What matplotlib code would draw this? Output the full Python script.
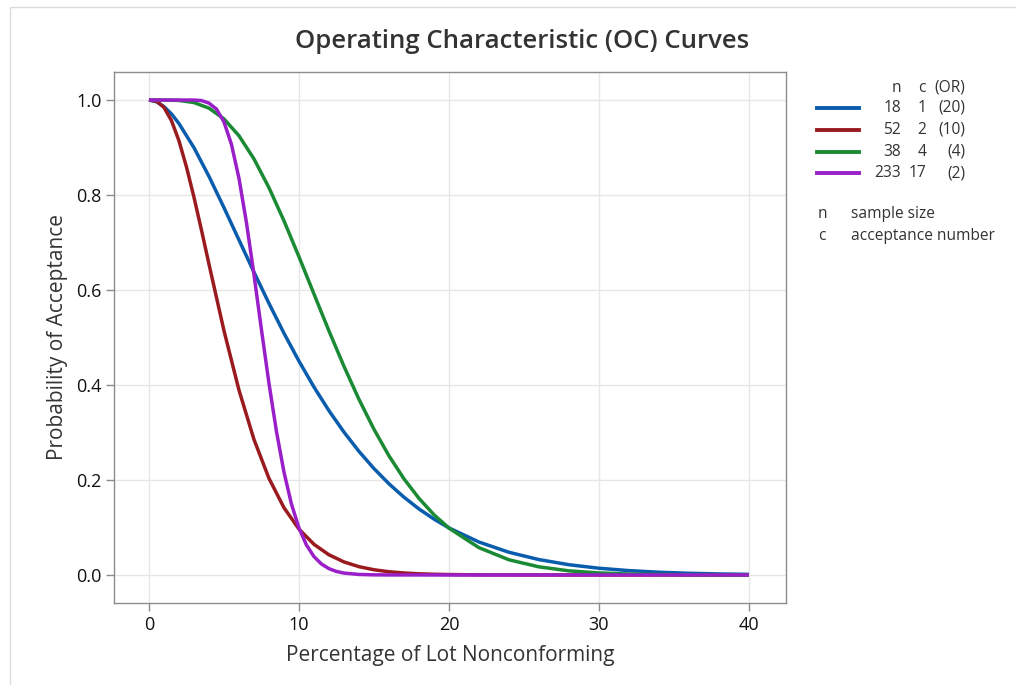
import matplotlib
matplotlib.use("Agg")
import matplotlib.pyplot as plt
from matplotlib.lines import Line2D
from matplotlib.patches import Rectangle

plt.rcParams['font.family'] = ['Open Sans', 'DejaVu Sans']

# ---- data ----
plan_n = [18, 52, 38, 233]
plan_c = [1, 2, 4, 17]
plan_or = [20, 10, 4, 2]
colors = ['#0a5cad', '#9a1b1f', '#1a8a35', '#9a1fc9']

x_blue = [0, 0.5, 1, 1.5, 2, 3, 4, 5, 6, 7, 8, 9, 10, 11, 12, 13, 14, 15, 16, 17, 18, 19, 20,
          22, 24, 26, 28, 30, 32, 34, 36, 38, 40]
y_blue = [1.0, 0.9964, 0.9862, 0.9707, 0.9505, 0.8997, 0.8393, 0.7735, 0.7055, 0.6377, 0.5719,
          0.5091, 0.4503, 0.3958, 0.3459, 0.3009, 0.2603, 0.2241, 0.1920, 0.1638, 0.1391,
          0.1177, 0.0991, 0.0694, 0.0478, 0.0324, 0.0216, 0.0142, 0.0092, 0.0058, 0.0036,
          0.0022, 0.0013]

x_red = [0, 0.5, 1, 1.5, 2, 2.5, 3, 3.5, 4, 5, 6, 7, 8, 9, 10, 11, 12, 13, 14, 15, 16, 17,
         18, 19, 20, 22, 24, 30, 40]
y_red = [1.0, 0.9977, 0.9846, 0.9567, 0.9142, 0.8592, 0.7955, 0.7263, 0.6547, 0.5145,
         0.3894, 0.2854, 0.2035, 0.1417, 0.0966, 0.0646, 0.0425, 0.0275, 0.0175, 0.0110,
         0.0068, 0.0042, 0.0025, 0.0015, 0.0009, 0.0003, 0.0001, 0.0, 0.0]

x_green = [0, 1, 2, 3, 4, 5, 6, 7, 8, 9, 10, 11, 12, 13, 14, 15, 16, 17, 18, 19, 20,
           22, 24, 26, 28, 30, 32, 34, 36, 38, 40]
y_green = [1.0, 1.0, 0.9991, 0.9947, 0.9829, 0.9603, 0.9248, 0.8761, 0.8155, 0.7458,
           0.6701, 0.5918, 0.5139, 0.4394, 0.3699, 0.3068, 0.2509, 0.2025, 0.1613, 0.1269,
           0.0986, 0.0575, 0.0320, 0.0171, 0.0087, 0.0043, 0.0020, 0.0009, 0.0004, 0.0002,
           0.0001]

x_purple = [0, 1, 2, 3, 3.5, 4, 4.5, 5, 5.5, 6, 6.5, 7, 7.5, 8, 8.5, 9, 9.5, 10, 10.5,
            11, 11.5, 12, 12.5, 13, 14, 15, 16, 20, 30, 40]
y_purple = [1.0, 1.0, 1.0, 0.9999, 0.9989, 0.9935, 0.9810, 0.9540, 0.9066, 0.8354, 0.7419,
            0.6327, 0.5165, 0.4038, 0.3023, 0.2168, 0.1493, 0.0989, 0.0631, 0.0388, 0.0231,
            0.0133, 0.0074, 0.0040, 0.0011, 0.0003, 0.0001, 0.0, 0.0, 0.0]

series_x = [x_blue, x_red, x_green, x_purple]
series_y = [y_blue, y_red, y_green, y_purple]

x_ticks = [0, 10, 20, 30, 40]
y_ticks = [0.0, 0.2, 0.4, 0.6, 0.8, 1.0]

# ---- figure ----
fig = plt.figure(figsize=(10.16, 6.85), dpi=100)
fig.patches.append(Rectangle((10 / 1016, -0.01), 1.02, 1 - 7 / 685 + 0.01,
                             transform=fig.transFigure, fill=False,
                             edgecolor='#dcdcdc', linewidth=1.0))

ax = fig.add_axes([114 / 1016, 1 - 603 / 685, (786 - 114) / 1016, (603 - 72) / 685])
for xs, ys, col in zip(series_x, series_y, colors):
    ax.plot(xs, ys, color=col, linewidth=2.5, solid_capstyle='butt', zorder=3)

ax.set_xlim(-2.33, 42.47)
ax.set_ylim(-0.059, 1.059)
ax.set_xticks(x_ticks)
ax.set_yticks(y_ticks)
ax.set_yticklabels([f'{v:.1f}' for v in y_ticks])
ax.grid(True, color='#e6e6e6', linewidth=1.0, zorder=0)
ax.set_axisbelow(True)
for s in ax.spines.values():
    s.set_color('#8c8c8c')
    s.set_linewidth(1.0)
ax.tick_params(axis='both', colors='#8c8c8c', labelcolor='#111111', labelsize=13,
               length=6, width=1.0, pad=3)
for lab in ax.get_xticklabels() + ax.get_yticklabels():
    lab.set_fontweight(500)
ax.set_xlabel('Percentage of Lot Nonconforming', fontsize=15, color='#333333',
              labelpad=8, fontweight=500)
ax.set_ylabel('Probability of Acceptance', fontsize=15, color='#333333',
              labelpad=6, fontweight=500)

fig.text(0.514, 1 - 42 / 685, 'Operating Characteristic (OC) Curves', ha='center',
         va='center', fontsize=18.5, color='#333333', fontweight=600)

# ---- legend table ----
def fx(px):
    return px / 1016

def fy(py):
    return 1 - py / 685

tc = '#333333'
fs = 11.2
fig.text(fx(901), fy(88), 'n', ha='right', va='center', fontsize=fs, color=tc, fontweight=500)
fig.text(fx(926), fy(88), 'c', ha='right', va='center', fontsize=fs, color=tc, fontweight=500)
fig.text(fx(965), fy(88), '(OR)', ha='right', va='center', fontsize=fs, color=tc, fontweight=500)
for i, (n, c, orr, col) in enumerate(zip(plan_n, plan_c, plan_or, colors)):
    yy = 108 + 21.8 * i
    fig.add_artist(Line2D([fx(817), fx(859)], [fy(yy), fy(yy)], color=col,
                          linewidth=2.8, transform=fig.transFigure))
    fig.text(fx(901), fy(yy), str(n), ha='right', va='center', fontsize=fs, color=tc, fontweight=500)
    fig.text(fx(926), fy(yy), str(c), ha='right', va='center', fontsize=fs, color=tc, fontweight=500)
    fig.text(fx(965), fy(yy), f'({orr})', ha='right', va='center', fontsize=fs, color=tc, fontweight=500)

fig.text(fx(818), fy(214), 'n', ha='left', va='center', fontsize=fs, color=tc, fontweight=500)
fig.text(fx(851), fy(214), 'sample size', ha='left', va='center', fontsize=fs, color=tc, fontweight=500)
fig.text(fx(818), fy(236), 'c', ha='left', va='center', fontsize=fs, color=tc, fontweight=500)
fig.text(fx(851), fy(236), 'acceptance number', ha='left', va='center', fontsize=fs, color=tc, fontweight=500)

fig.savefig('out.png', dpi=100)
